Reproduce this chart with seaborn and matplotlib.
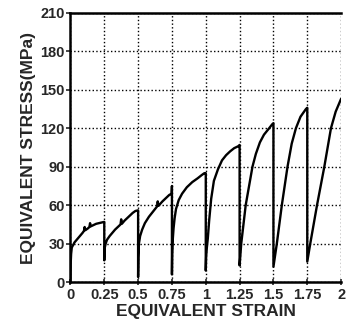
import pandas as pd
import matplotlib
matplotlib.use("Agg")
import matplotlib.pyplot as plt
import seaborn as sns

sns.set_style("ticks")
plt.rcParams['font.family'] = ['Liberation Sans', 'DejaVu Sans']
plt.rcParams['font.weight'] = 'bold'

# --------------------------
# Data: interrupted loading cycles
# --------------------------
strain_1 = [0, 0.002, 0.005, 0.01, 0.02, 0.03, 0.05, 0.07, 0.09, 0.10, 0.105, 0.11,
            0.13, 0.14, 0.145, 0.15, 0.17, 0.19, 0.21, 0.23, 0.25]
stress_1 = [0, 15, 22, 27, 29, 31, 33.5, 36, 38.5, 40, 43, 40.5,
            42, 43, 46, 43.5, 44.5, 45.5, 46, 46.5, 47]

strain_2 = [0.25, 0.252, 0.26, 0.27, 0.29, 0.31, 0.33, 0.35, 0.37, 0.375, 0.38,
            0.40, 0.42, 0.44, 0.46, 0.48, 0.50]
stress_2 = [17, 26, 30, 33, 36, 38.5, 41, 43, 45, 49, 45.5,
            48, 50, 52, 54, 55.5, 56]

strain_3 = [0.50, 0.502, 0.506, 0.515, 0.53, 0.55, 0.58, 0.61, 0.64, 0.645, 0.65,
            0.68, 0.71, 0.73, 0.748, 0.75]
stress_3 = [4, 20, 30, 36, 41, 46, 51, 55, 59, 63, 59.5,
            63, 66, 68, 69, 75]

strain_4 = [0.75, 0.752, 0.756, 0.762, 0.77, 0.78, 0.80, 0.825, 0.86, 0.90, 0.94,
            0.97, 0.99, 1.0]
stress_4 = [6, 22, 33, 42, 50, 57, 64, 69, 74, 78, 81,
            83.5, 85, 85]

strain_5 = [1.0, 1.003, 1.008, 1.015, 1.025, 1.04, 1.06, 1.09, 1.12, 1.15, 1.18,
            1.21, 1.24, 1.25]
stress_5 = [9, 20, 27, 34, 48, 65, 79, 88, 95, 99, 102,
            104.5, 106, 107]

strain_6 = [1.25, 1.262, 1.295, 1.345, 1.37, 1.40, 1.43, 1.468, 1.49, 1.50]
stress_6 = [13, 30, 60, 90, 100, 109, 115, 120, 123, 124]

strain_7 = [1.50, 1.525, 1.562, 1.604, 1.635, 1.666, 1.70, 1.74, 1.75]
stress_7 = [12, 30, 60, 90, 108, 120, 129, 135, 136]

strain_8 = [1.75, 1.772, 1.822, 1.876, 1.925, 1.96, 2.0]
stress_8 = [16, 30, 60, 90, 120, 133, 143]

x_ticks = [0, 0.25, 0.5, 0.75, 1, 1.25, 1.5, 1.75, 2]
x_tick_labels = ["0", "0.25", "0.5", "0.75", "1", "1.25", "1.5", "1.75", "2"]
y_ticks = [0, 30, 60, 90, 120, 150, 180, 210]

strain = (strain_1 + strain_2 + strain_3 + strain_4 +
          strain_5 + strain_6 + strain_7 + strain_8)
stress = (stress_1 + stress_2 + stress_3 + stress_4 +
          stress_5 + stress_6 + stress_7 + stress_8)
df = pd.DataFrame({"strain": strain, "stress": stress})

# --------------------------
# Plot
# --------------------------
fig = plt.figure(figsize=(3.47, 3.30), dpi=100)
ax = fig.add_axes([0.203, 0.145, 0.78, 0.816])

sns.lineplot(data=df, x="strain", y="stress", sort=False, estimator=None,
             color="black", linewidth=1.7, ax=ax)

ax.set_xlim(0, 2)
ax.set_ylim(0, 210)
ax.set_xticks(x_ticks)
ax.set_xticklabels(x_tick_labels)
ax.set_yticks(y_ticks)
ax.grid(True, linestyle=":", color="black", linewidth=1.0)

for side in ["left", "bottom", "top"]:
    ax.spines[side].set_linewidth(1.8)
    ax.spines[side].set_color("black")
ax.spines["right"].set_visible(False)

ax.tick_params(axis="x", direction="inout", length=5, width=1.2,
               labelsize=10.5, pad=2)
ax.tick_params(axis="y", direction="out", length=3, width=1.2,
               labelsize=10.5, pad=1)
for lbl in ax.get_xticklabels() + ax.get_yticklabels():
    lbl.set_fontweight("bold")

ax.set_xlabel("EQUIVALENT STRAIN", fontsize=12.5, fontweight="bold", labelpad=1)
ax.set_ylabel("EQUIVALENT STRESS(MPa)", fontsize=12.5, fontweight="bold", labelpad=3)

fig.savefig("out.png", dpi=100)
